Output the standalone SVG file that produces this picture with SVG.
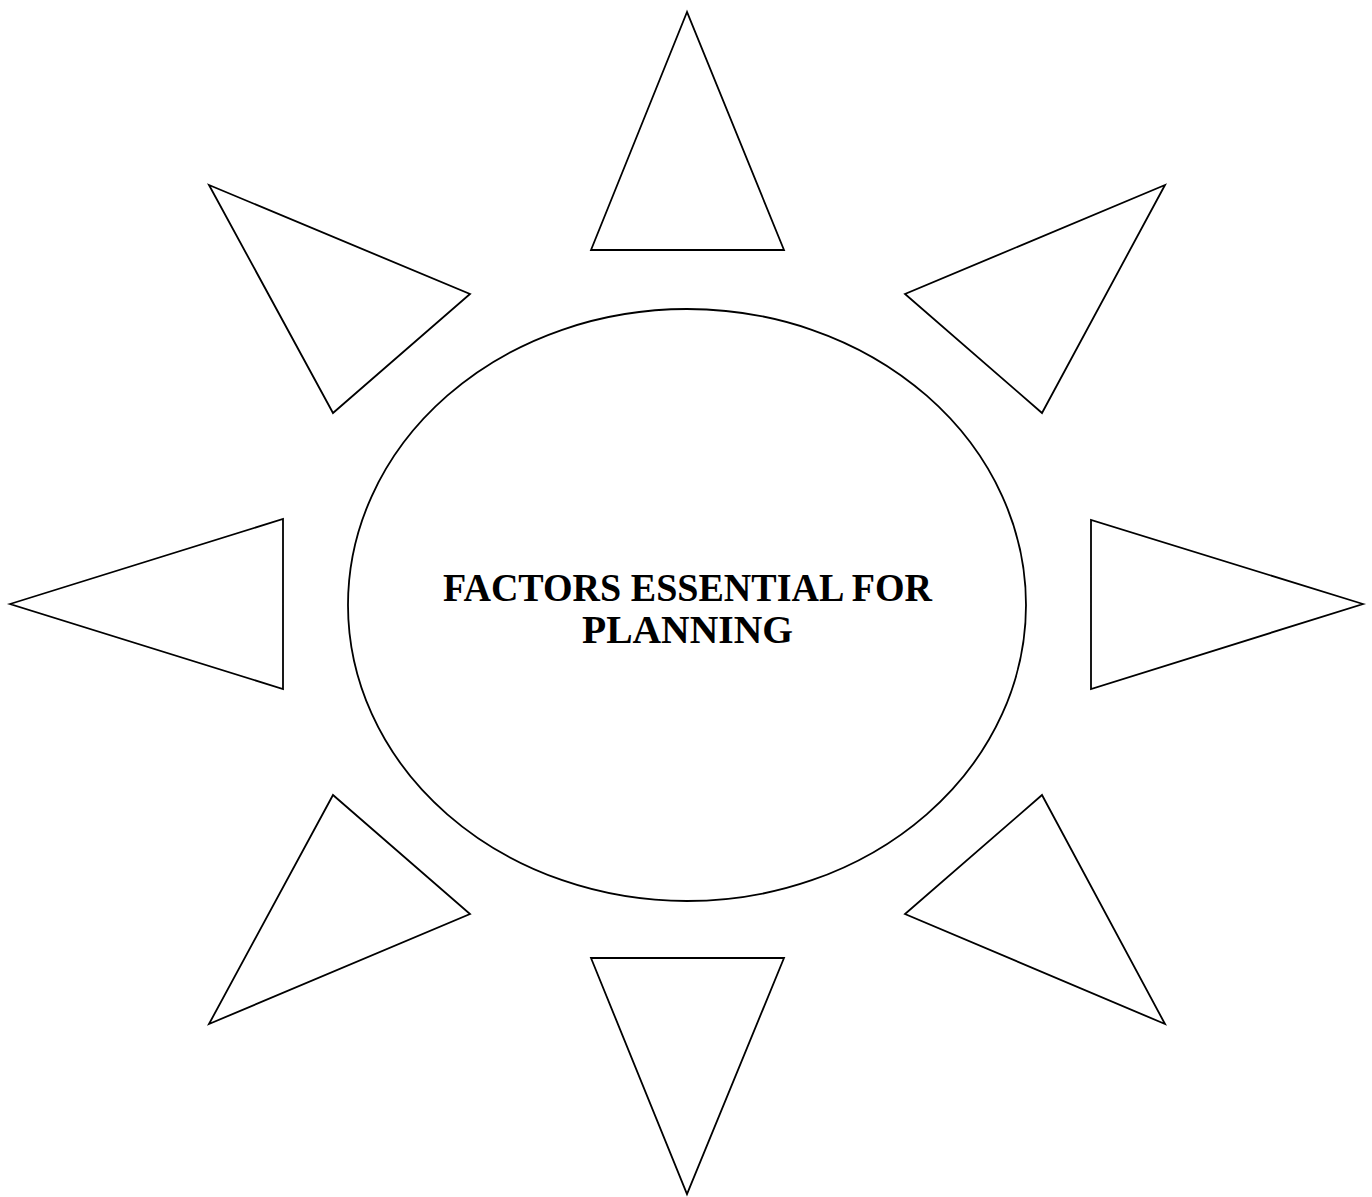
<svg xmlns="http://www.w3.org/2000/svg" width="1372" height="1197" viewBox="0 0 1372 1197">
<style>
.s{fill:#fff;stroke:#000;stroke-width:1.8;stroke-linejoin:miter}
.t{font-family:"Liberation Serif","Times New Roman",serif;font-weight:bold;font-size:41px;fill:#000;text-anchor:middle}
</style>
<rect width="1372" height="1197" fill="#fff"/>
<g id="center">
<ellipse class="s" cx="687" cy="605" rx="339" ry="296"/>
<text class="t" x="687.5" y="601" textLength="489" lengthAdjust="spacingAndGlyphs">FACTORS ESSENTIAL FOR</text>
<text class="t" x="687.5" y="643" textLength="211" lengthAdjust="spacingAndGlyphs">PLANNING</text>
</g>
<g id="tri-top"><polygon class="s" points="687,12 591,250 784,250"/></g>
<g id="tri-upper-left"><polygon class="s" points="209,185 470,294 333,413"/></g>
<g id="tri-upper-right"><polygon class="s" points="1165,185 905,294 1042,413"/></g>
<g id="tri-left"><polygon class="s" points="10,604 283,519 283,689"/></g>
<g id="tri-right"><polygon class="s" points="1363,604 1091,520 1091,689"/></g>
<g id="tri-lower-left"><polygon class="s" points="333,795 470,914 209,1024"/></g>
<g id="tri-lower-right"><polygon class="s" points="1042,795 905,914 1165,1024"/></g>
<g id="tri-bottom"><polygon class="s" points="591,958 784,958 687,1194"/></g>
<g id="connectors"/>
</svg>
